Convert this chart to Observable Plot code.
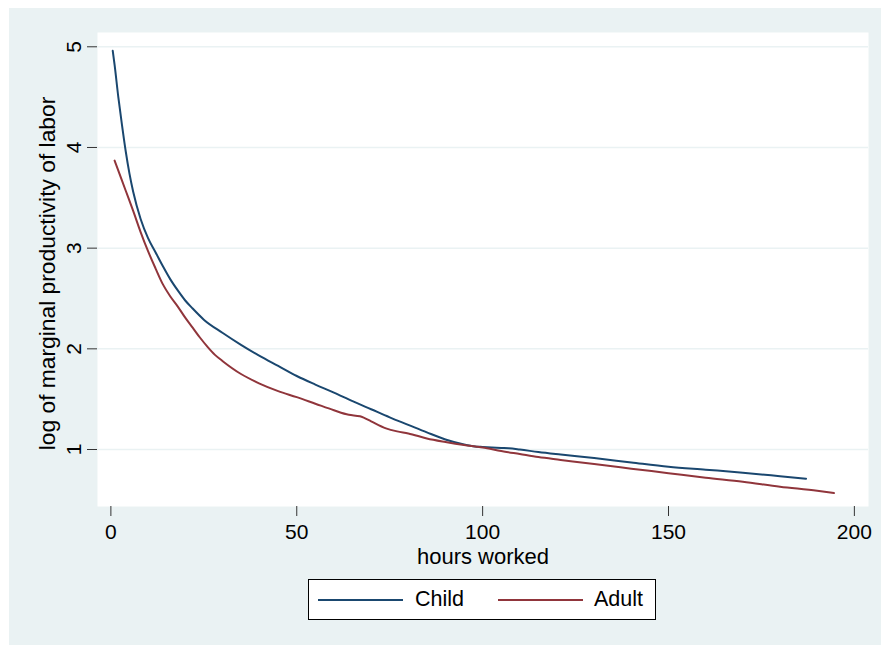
<!DOCTYPE html>
<html>
<head>
<meta charset="utf-8">
<script src="https://cdn.jsdelivr.net/npm/d3@7"></script>
<script src="https://cdn.jsdelivr.net/npm/@observablehq/plot@0.6"></script>
<style>
  html, body { margin: 0; padding: 0; background: #ffffff; }
  #wrap { position: relative; width: 881px; height: 645px; overflow: hidden; background: #ffffff;
          font-family: "Liberation Sans", Arial, Helvetica, sans-serif; }
  #bg { position: absolute; left: 9px; top: 8px; right: 0; bottom: 0; background: #eaf2f3; }
  #chart { position: absolute; left: 0; top: 0; }
  #chart svg { background: transparent !important; }
  #legend { position: absolute; left: 308px; top: 579px; width: 346px; height: 39px;
            border: 1px solid #000; background: #fff; }
  .sw { position: absolute; top: 19px; height: 2px; width: 85px; }
  .lt { position: absolute; top: 6px; font-size: 21.5px; color: #000; line-height: 26px; }
</style>
</head>
<body>
<div id="wrap">
  <div id="bg"></div>
  <div id="chart"></div>
  <div id="legend">
    <div class="sw" style="left:9px;background:#1a476f"></div>
    <div class="lt" style="left:106px">Child</div>
    <div class="sw" style="left:189px;background:#90353b"></div>
    <div class="lt" style="left:285px">Adult</div>
  </div>
</div>
<script>
const seriesNames = ["Child", "Adult"];
const seriesColors = ["#1a476f", "#90353b"];

const childHours = [0.5, 1, 2, 3, 4, 5, 6, 8, 10, 12, 14, 16, 18, 20, 22, 25, 30, 35, 40, 45, 50, 55, 60, 65, 70, 75, 80, 85, 90, 95, 98, 100, 105, 107, 110, 115, 121, 130, 140, 150, 160, 170, 180, 187];
const childLog   = [4.96, 4.82, 4.50, 4.22, 3.96, 3.74, 3.56, 3.29, 3.10, 2.96, 2.82, 2.69, 2.58, 2.48, 2.40, 2.29, 2.16, 2.04, 1.93, 1.83, 1.73, 1.645, 1.565, 1.48, 1.40, 1.32, 1.245, 1.17, 1.10, 1.05, 1.03, 1.025, 1.015, 1.012, 1.0, 0.975, 0.95, 0.915, 0.872, 0.83, 0.80, 0.77, 0.735, 0.71];

const adultHours = [1, 2, 4, 6, 8, 10, 12, 14, 16, 18, 20, 22, 24, 26, 28, 30, 35, 40, 45, 50, 55, 60, 64, 67, 68, 70, 74, 77, 80, 85, 90, 95, 98, 100, 105, 110, 115, 121, 130, 140, 150, 160, 170, 180, 190, 194.5];
const adultLog   = [3.87, 3.77, 3.57, 3.37, 3.16, 2.97, 2.80, 2.64, 2.52, 2.42, 2.31, 2.21, 2.11, 2.02, 1.94, 1.88, 1.75, 1.655, 1.58, 1.52, 1.455, 1.39, 1.345, 1.33, 1.317, 1.28, 1.21, 1.18, 1.16, 1.11, 1.075, 1.045, 1.03, 1.02, 0.985, 0.955, 0.925, 0.897, 0.855, 0.81, 0.765, 0.72, 0.68, 0.63, 0.59, 0.567];

const xTicks = [0, 50, 100, 150, 200];
const yTicks = [1, 2, 3, 4, 5];
const xLabel = "hours worked";
const yLabel = "log of marginal productivity of labor";

const rows = [
  ...childHours.map((h, i) => ({hours: h, value: childLog[i], series: seriesNames[0]})),
  ...adultHours.map((h, i) => ({hours: h, value: adultLog[i], series: seriesNames[1]}))
];

const chart = Plot.plot({
  width: 881,
  height: 645,
  marginLeft: 97,
  marginTop: 32,
  marginRight: 13,
  marginBottom: 139,
  style: {background: "transparent", fontFamily: "Liberation Sans, Arial, Helvetica, sans-serif", fontSize: "21px", color: "#000"},
  x: {domain: [-3.6, 203.8]},
  y: {domain: [0.434, 5.142]},
  color: {domain: seriesNames, range: seriesColors},
  marks: [
    Plot.frame({fill: "#ffffff", stroke: "none"}),
    Plot.gridY(yTicks, {stroke: "#eaf2f3", strokeOpacity: 1, strokeWidth: 1.5}),
    Plot.line(rows, {x: "hours", y: "value", z: "series", stroke: "series", strokeWidth: 2, curve: "monotone-x"}),
    Plot.axisX(xTicks, {tickSize: 10, tickPadding: 8, stroke: "#333", line: true, label: null, fontSize: 21, tickFormat: d3.format("d")}),
    Plot.axisY(yTicks, {tickSize: 10, tickPadding: 7, tickRotate: -90, stroke: "#333", line: true, label: null, fontSize: 21, tickFormat: d3.format("d")}),
    Plot.text([xLabel], {frameAnchor: "bottom", dy: 57, lineAnchor: "bottom", text: d => d, fontSize: 22}),
    Plot.text([yLabel], {frameAnchor: "left", dx: -43, dy: 4, rotate: -90, lineAnchor: "bottom", textAnchor: "middle", text: d => d, fontSize: 22.8})
  ]
});
document.getElementById("chart").appendChild(chart);
</script>
</body>
</html>
